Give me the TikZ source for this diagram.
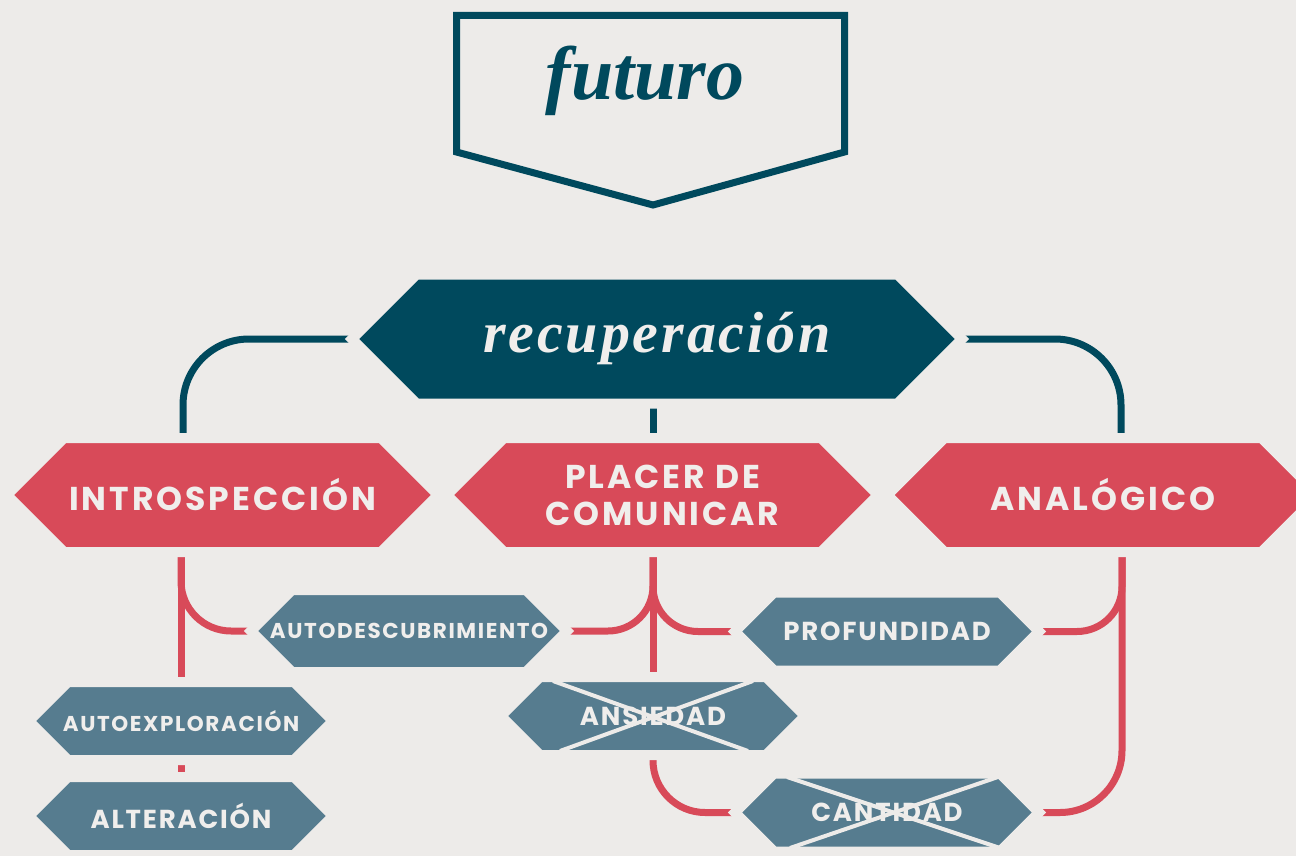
\documentclass[tikz,border=0pt]{standalone}
\usepackage{fontspec}
\usetikzlibrary{shapes.symbols,backgrounds}
\newfontfamily\capsfont{Poppins}
\newfontfamily\titlefont{Liberation Serif}
\definecolor{paper}{HTML}{EDEBE9}
\definecolor{ink}{HTML}{00495D}
\definecolor{rosso}{HTML}{D84A59}
\definecolor{slate}{HTML}{567C8F}
\definecolor{chalk}{HTML}{F0EEEC}

\begin{document}
\begin{tikzpicture}%
    [x=1pt, y=-1pt,
    hex/.style={signal, signal to=west and east, signal pointer angle=90,
        draw=paper, line width=10pt, inner ysep=0pt, inner xsep=-60pt, outer sep=0pt,
        text=chalk, align=center},
    bighex/.style={hex, fill=rosso, minimum width=431pt, minimum height=114pt,
        font=\capsfont\bfseries\fontsize{33}{37}\selectfont\addfontfeature{LetterSpace=9}},
    smallhex/.style={hex, fill=slate, minimum width=304pt, minimum height=78pt,
        font=\capsfont\bfseries\fontsize{26}{28}\selectfont\addfontfeature{LetterSpace=7}},
    longlabel/.style={font=\capsfont\bfseries\fontsize{21.5}{24}\selectfont\addfontfeature{LetterSpace=7.5}},
    redline/.style={draw=rosso, line width=7pt},
    inkline/.style={draw=ink, line width=7pt},
    crossout/.style={draw=paper, line width=4pt}
    ]
    \useasboundingbox (0,0) rectangle (1296,856);
    \clip (0,0) rectangle (1296,856);

    \node[font=\titlefont\bfseries\itshape\fontsize{76}{76}\selectfont,
          text=ink, anchor=base] (futuro) at (645,100) {futuro};
    \draw[inkline] (456.5,15.5) -- (844.5,15.5) -- (844.5,152) -- (653,205)
        -- (456.5,152) -- cycle;

    \node[hex, fill=ink, minimum width=610pt, minimum height=129pt,
          font=\titlefont\bfseries\itshape\fontsize{58}{58}\selectfont\addfontfeature{LetterSpace=5}]
          (recup) at (657,339) {recuperación};

    \node[bighex] (intro)  at (222.5,495) {INTROSPECCIÓN};
    \node[bighex] (placer) at (662.5,495) {PLACER DE\\COMUNICAR};
    \node[bighex] (analog) at (1103,495)  {ANALÓGICO};

    \node[smallhex, longlabel, minimum width=316pt, minimum height=82pt] (autodesc) at (409,631) {AUTODESCUBRIMIENTO};
    \node[smallhex] (prof)     at (887,631.5) {PROFUNDIDAD};
    \node[smallhex, longlabel] (autoexpl) at (181,721) {AUTOEXPLORACIÓN};
    \node[smallhex] (ans)      at (653,716)   {ANSIEDAD};
    \node[smallhex] (alter)    at (181,816)   {ALTERACIÓN};
    \node[smallhex] (cant)     at (887,812.5) {CANTIDAD};

    % tachados
    \draw[crossout] ([shift={(-100pt,35pt)}]ans.center) -- ([shift={(95pt,-35pt)}]ans.center);
    \draw[crossout] ([shift={(100pt,35pt)}]ans.center) -- ([shift={(-93pt,-35pt)}]ans.center);
    \draw[crossout] ([shift={(-100pt,35.5pt)}]cant.center) -- ([shift={(113pt,-35.5pt)}]cant.center);
    \draw[crossout] ([shift={(111pt,35.5pt)}]cant.center) -- ([shift={(-97pt,-35.5pt)}]cant.center);

    \begin{scope}[on background layer]
    \fill[paper] (0,0) rectangle (1296,856);

    \draw[inkline, rounded corners=66pt] (recup.west) -| ([shift={(-39.5pt,4pt)}]intro.north);
    \draw[inkline, rounded corners=66pt] (recup.east) -| ([shift={(18pt,4pt)}]analog.north);
    \draw[inkline] ([shift={(-4pt,-3.5pt)}]recup.south) -- ([shift={(-9.5pt,4pt)}]placer.north);

    \draw[redline] ([shift={(-41.5pt,-2pt)}]intro.south) -- ([yshift=4pt]autoexpl.north);
    \draw[redline, rounded corners=50pt] ([shift={(-41.5pt,-2pt)}]intro.south) |- (autodesc.west);
    \draw[redline] ([yshift=-3pt]autoexpl.south) -- ([yshift=4pt]alter.north);

    \draw[redline] ([shift={(-9.5pt,-3pt)}]placer.south) -- ([yshift=4pt]ans.north);
    \draw[redline, rounded corners=45pt] ([shift={(-9.5pt,-3pt)}]placer.south) |- (autodesc.east);
    \draw[redline, rounded corners=45pt] ([shift={(-9.5pt,-3pt)}]placer.south) |- (prof.west);
    \draw[redline, rounded corners=52pt] ([yshift=-3pt]ans.south) |- (cant.west);

    \draw[redline, rounded corners=45pt] ([shift={(19pt,-3pt)}]analog.south) |- (prof.east);
    \draw[redline, rounded corners=62pt] ([shift={(19pt,-3pt)}]analog.south) |- (cant.east);
    \end{scope}
\end{tikzpicture}
\end{document}
